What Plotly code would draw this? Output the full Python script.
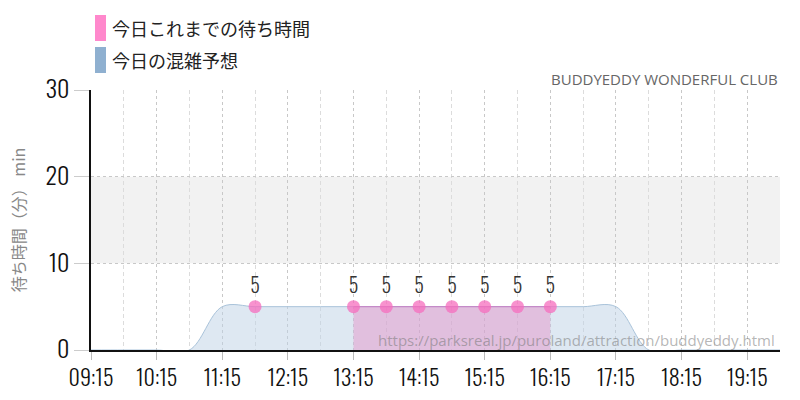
import plotly.graph_objects as go

DAY = "2024-01-01 "

forecast_times = ["09:15", "09:45", "10:15", "10:45", "11:15", "11:45", "12:15", "12:45",
                  "13:15", "13:45", "14:15", "14:45", "15:15", "15:45", "16:15", "16:45",
                  "17:15", "17:45", "18:15", "18:45", "19:15", "19:45"]
forecast_values = [0, 0, 0, 0, 5, 5, 5, 5,
                   5, 5, 5, 5, 5, 5, 5, 5,
                   5, 0, 0, 0, 0, 0]

actual_times = ["11:45", "12:15", "12:45", "13:15", "13:45", "14:15", "14:45", "15:15", "15:45", "16:15"]
actual_values = [5, None, None, 5, 5, 5, 5, 5, 5, 5]

tick_labels = ["09:15", "10:15", "11:15", "12:15", "13:15", "14:15", "15:15", "16:15", "17:15", "18:15", "19:15"]
y_ticks = [0, 10, 20, 30]

legend_names = ["今日これまでの待ち時間", "今日の混雑予想"]
legend_colors = ["#ff88cc", "#8fb0d0"]

NARROW = "Oswald, DejaVu Sans Condensed, sans-serif"
CJK = "Noto Sans CJK JP, sans-serif"

fig = go.Figure()

fig.add_trace(go.Scatter(
    x=[DAY + t for t in forecast_times], y=forecast_values,
    mode="lines", line=dict(shape="spline", smoothing=1, color="#a9c3da", width=1),
    fill="tozeroy", fillcolor="rgba(190,210,230,0.5)",
    hoverinfo="skip", showlegend=False,
))

# split actual series into contiguous segments for the filled line
segments, cur = [], []
for t, v in zip(actual_times, actual_values):
    if v is None:
        if cur:
            segments.append(cur)
        cur = []
    else:
        cur.append((t, v))
if cur:
    segments.append(cur)

for seg in segments:
    if len(seg) < 2:
        continue
    fig.add_trace(go.Scatter(
        x=[DAY + t for t, _ in seg], y=[v for _, v in seg],
        mode="lines", line=dict(color="rgba(200,110,190,0.8)", width=1),
        fill="tozeroy", fillcolor="rgba(230,130,192,0.4)",
        hoverinfo="skip", showlegend=False,
    ))

pts = [(t, v) for t, v in zip(actual_times, actual_values) if v is not None]
fig.add_trace(go.Scatter(
    x=[DAY + t for t, _ in pts], y=[v for _, v in pts],
    mode="markers+text",
    marker=dict(size=13, color="rgba(245,110,190,0.75)"),
    text=[str(v) for _, v in pts],
    textposition="top center",
    textfont=dict(family=NARROW, size=20, weight=300, color="#333"),
    showlegend=False,
))

fig.add_shape(type="rect", xref="paper", yref="y", x0=0, x1=1, y0=10, y1=20,
              fillcolor="#f2f2f2", line=dict(width=0), layer="below")

# legend
for i, (name, col) in enumerate(zip(legend_names, legend_colors)):
    yc = 28 + 32 * i
    fig.add_shape(type="rect", xref="paper", yref="paper",
                  x0=(95 - 91) / 689, x1=(106 - 91) / 689,
                  y0=(350 - (yc + 13)) / 260, y1=(350 - (yc - 13)) / 260,
                  fillcolor=col, line=dict(width=0))
    fig.add_annotation(text=name, xref="paper", yref="paper",
                       x=(110 - 91) / 689, y=(350 - yc) / 260,
                       xanchor="left", yanchor="middle", showarrow=False,
                       font=dict(family=CJK, size=18, color="#222"))

fig.add_annotation(text="BUDDYEDDY WONDERFUL CLUB", xref="paper", yref="paper",
                   x=1, y=(350 - 79) / 260, xanchor="right", yanchor="middle",
                   showarrow=False, font=dict(family="Open Sans, sans-serif", size=15, color="#666"))

fig.add_annotation(text="https://parksreal.jp/puroland/attraction/buddyeddy.html",
                   xref="paper", yref="paper", x=(777 - 91) / 689, y=(350 - 340) / 260,
                   xanchor="right", yanchor="middle", showarrow=False,
                   font=dict(family="Open Sans, sans-serif", size=15, color="rgba(120,120,120,0.55)"))

fig.update_layout(
    width=800, height=400,
    margin=dict(l=91, r=20, t=90, b=50, autoexpand=False),
    paper_bgcolor="white", plot_bgcolor="white",
    xaxis=dict(
        type="date", automargin=False,
        range=[DAY + "09:15", DAY + "19:45"],
        tickvals=[DAY + t for t in tick_labels], ticktext=tick_labels,
        tickfont=dict(family=NARROW, size=22, weight=300, color="#111"),
        ticks="outside", ticklen=8, tickcolor="#bbb",
        showgrid=True, gridcolor="#c8c8c8", griddash="dot", gridwidth=1,
        minor=dict(tick0=DAY + "09:45", dtick=3600000, showgrid=True,
                   gridcolor="#dcdcdc", griddash="4px,3px", gridwidth=1),
        showline=True, linecolor="#111", linewidth=1.5,
        zeroline=False,
    ),
    yaxis=dict(
        range=[0, 30], tickvals=y_ticks, automargin=False,
        tickfont=dict(family=NARROW, size=24, weight=300, color="#111"),
        ticks="outside", ticklen=15, tickcolor="#ccc",
        showgrid=True, gridcolor="#c8c8c8", griddash="dot",
        showline=True, linecolor="#111", linewidth=1.5,
        zeroline=False,
        title=dict(text="待ち時間（分） min", font=dict(family=CJK, size=16, color="#888"), standoff=16),
    ),
)

fig.write_html("out.html", config={"displayModeBar": False},
               post_script="document.body.style.margin='0';")
